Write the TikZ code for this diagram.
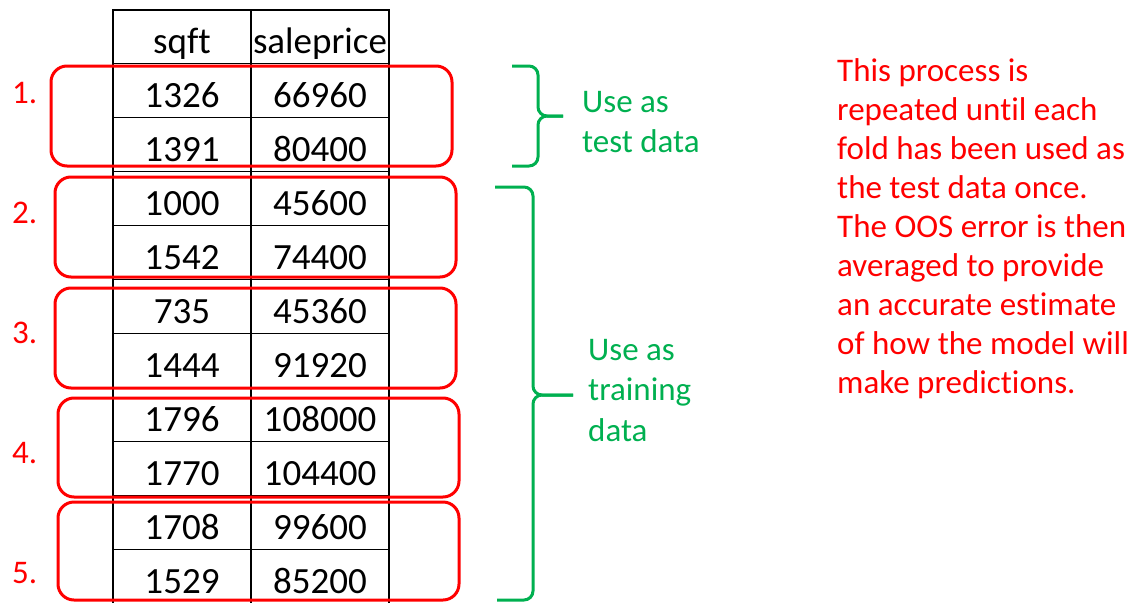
\documentclass[tikz,border=0pt]{standalone}
\usepackage{fontspec}
\setmainfont[Ligatures=NoCommon]{Carlito}
\usepackage{tikz}
\definecolor{foldred}{RGB}{255,0,0}
\definecolor{splitgreen}{RGB}{0,176,80}

\begin{document}
\begin{tikzpicture}[x=1pt,y=-1pt,
  cell/.style={anchor=base,inner sep=0pt,font=\fontsize{37}{40}\selectfont},
  grid/.style={draw=black,line width=1.3pt},
  fold/.style={draw=foldred,line width=3pt,rounded corners=16pt,inner sep=0pt,outer sep=0pt,minimum width=401pt},
  foldnum/.style={anchor=base west,inner sep=0pt,text=foldred,font=\fontsize{33}{36}\selectfont},
  split/.style={draw=splitgreen,line width=3pt,rounded corners=9pt},
  note/.style={anchor=base west,inner sep=0pt,align=left}]
  \useasboundingbox (0,0) rectangle (1134,602);
  % Table grid
  \draw[grid] (113,10) rectangle (389,604);
  \draw[grid] (251,10) -- (251,604);
  \foreach \i in {0,...,9}
    \draw[grid] (113,{63.5+54*\i}) -- (389,{63.5+54*\i});
  % Table entries
  \foreach \sq/\sp [count=\i from 0] in {sqft/saleprice,1326/66960,1391/80400,1000/45600,1542/74400,735/45360,1444/91920,1796/108000,1770/104400,1708/99600,1529/85200} {
    \node[cell] (sq\i) at (182,{53+54*\i}) {\sq};
    \node[cell] (sp\i) at (320,{53+54*\i}) {\sp};
  }
  % Folds
  \foreach \n/\cx/\cy/\h/\b in {1/251.5/116/100/103,2/255.5/227/100/223,3/255.5/338/100/343,4/258.5/447.5/99/463,5/258.5/551/98/583} {
    \node[fold,minimum height=\h pt] (fold\n) at (\cx,\cy) {};
    \node[foldnum] (num\n) at (12,\b) {\n.};
  }
  % Test and training braces
  \coordinate (testtop) at (512,66);
  \coordinate (testtip) at (563,116);
  \coordinate (testbot) at (512,166);
  \draw[split] (testtop) -- ++(26,0) |- (testtip);
  \draw[split] (testtip) -- ++(-25,0) |- (testbot);
  \coordinate (traintop) at (495,187);
  \coordinate (traintip) at (573,395);
  \coordinate (trainbot) at (497,600);
  \draw[split] (traintop) -- ++(38,0) |- (traintip);
  \draw[split] (traintip) -- ++(-40,0) |- (trainbot);
  % labels are placed by the baseline of their last line
  \node[note,text=splitgreen,font=\fontsize{33}{40}\selectfont] (testlbl) at (582,152) {Use as\\test data};
  \node[note,text=splitgreen,font=\fontsize{33}{40.5}\selectfont] (trainlbl) at (588,441) {Use as\\training\\data};
  % Explanation
  \node[note,text=foldred,font=\fontsize{33}{39}\selectfont] (expl) at (837,393)
    {This process is\\repeated until each\\fold has been used as\\the test data once.\\The OOS error is then\\averaged to provide\\an accurate estimate\\of how the model will\\make predictions.};
\end{tikzpicture}
\end{document}
